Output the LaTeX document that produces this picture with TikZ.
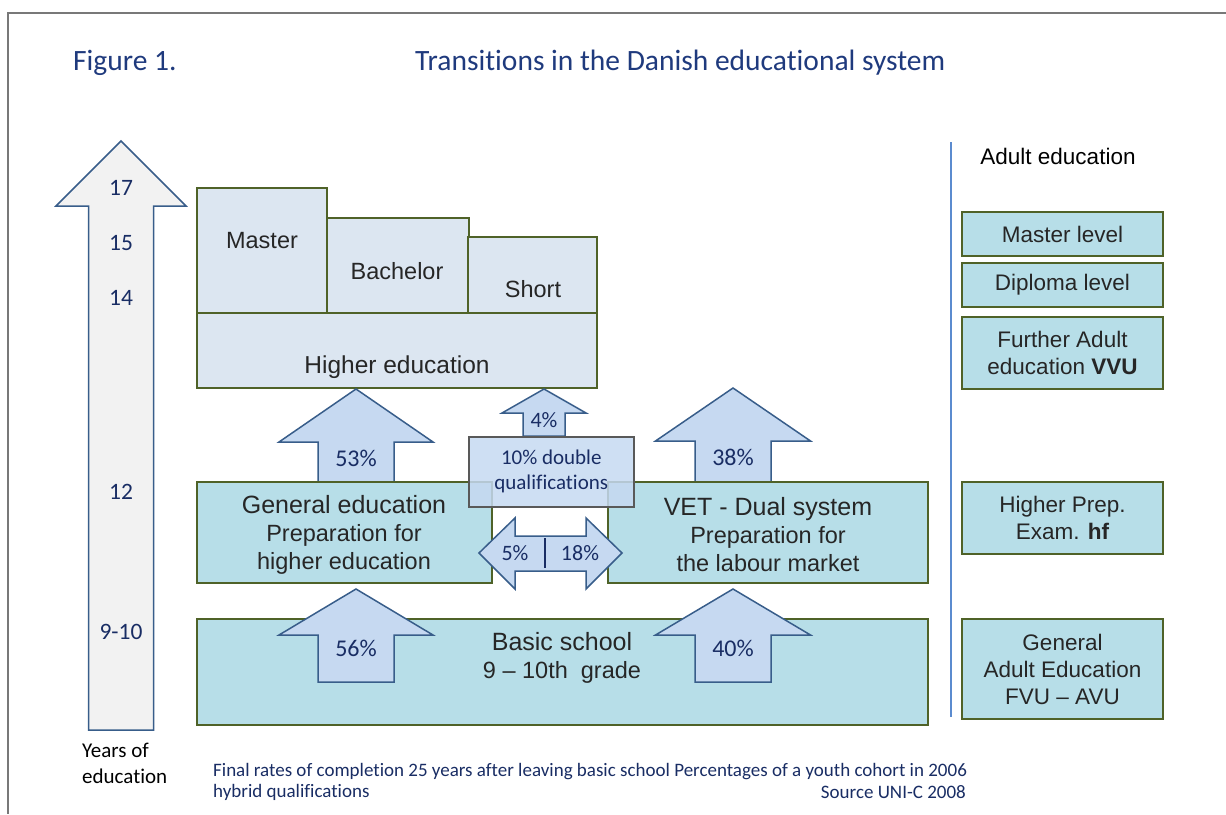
\documentclass[tikz,border=0pt]{standalone}
\usepackage{fontspec}
\setmainfont{Carlito}[Ligatures={NoCommon}]
\newfontfamily\arialf{Liberation Sans}
\definecolor{titleblue}{RGB}{31,58,125}
\definecolor{navy}{RGB}{25,45,100}
\definecolor{boxgreen}{RGB}{79,98,40}
\definecolor{cyanfill}{RGB}{183,222,232}
\definecolor{hefill}{RGB}{220,230,241}
\definecolor{arrfill}{RGB}{198,217,241}
\definecolor{arrline}{RGB}{56,93,138}
\definecolor{vline}{RGB}{91,139,207}
\definecolor{txtgray}{RGB}{38,38,38}
\definecolor{framegray}{RGB}{120,120,120}
\newcommand\UpArrowShape[7]{%
  \filldraw[#1] (#2,#3) -- ({#2+#5},#4) -- ({#2+#6},#4) -- ({#2+#6},#7)
    -- ({#2-#6},#7) -- ({#2-#6},#4) -- ({#2-#5},#4) -- cycle;}
\tikzset{
  box/.style={draw=boxgreen, line width=2.5pt, fill=cyanfill, inner sep=0pt,
    outer sep=0pt, anchor=north west, text=txtgray,
    font=\arialf\fontsize{22.5}{27}\selectfont, align=center},
  hebox/.style={box, fill=hefill},
  boxtext/.style={text=txtgray, font=\arialf\fontsize{23.5}{28}\selectfont, align=center, inner sep=0pt},
  arrsty/.style={fill=arrfill, draw=arrline, line width=1.5pt, line join=miter},
  yearsarr/.style={fill=black!5, draw=arrline, line width=1.5pt},
  pct/.style={text=navy, font=\fontsize{24}{28}\selectfont, inner sep=0pt},
  spct/.style={text=navy, font=\fontsize{22}{24}\selectfont, inner sep=0pt},
  yr/.style={text=navy, font=\fontsize{23.5}{26}\selectfont, inner sep=0pt},
  foot/.style={text=navy, font=\fontsize{19}{21}\selectfont, inner sep=0pt},
}
\begin{document}
\begin{tikzpicture}[x=1pt,y=-1pt]
\useasboundingbox (0,0) rectangle (1226,814);
% frame
\draw[framegray, line width=1.5pt] (1226,13) -- (8,13) -- (8,814);
% titles
\node[anchor=west, text=titleblue, font=\fontsize{29.5}{34}\selectfont, inner sep=0pt] (fig) at (73,63) {Figure 1.};
\node[anchor=west, text=titleblue, font=\fontsize{29.5}{34}\selectfont, inner sep=0pt] (title) at (415,63) {Transitions in the Danish educational system};
% years arrow
\UpArrowShape{yearsarr}{121}{141}{206}{65}{32.5}{730}
\node[yr] (y17) at (121,188) {17};
\node[yr] (y15) at (121,243) {15};
\node[yr] (y14) at (121,298) {14};
\node[yr] (y12) at (121,492) {12};
\node[yr] (y9) at (121,632) {9-10};
\node[anchor=west, text=black, font=\fontsize{21}{24}\selectfont, inner sep=0pt] (yrsof) at (82,750) {Years of};
\node[anchor=west, text=black, font=\fontsize{21}{24}\selectfont, inner sep=0pt] (yrsedu) at (82,776) {education};
% higher education group
\node[hebox, minimum width=130pt, minimum height=125pt] (master) at (197,188) {};
\node[hebox, minimum width=142pt, minimum height=95pt] (bachelor) at (327,218) {};
\node[hebox, minimum width=129pt, minimum height=76pt] (short) at (468,237) {};
\node[hebox, minimum width=400pt, minimum height=75pt] (higher) at (197,313) {};
\node[boxtext] (masterT) at (262,241) {Master};
\node[boxtext] (bachelorT) at (397,271) {Bachelor};
\node[boxtext] (shortT) at (533,289) {Short};
\node[boxtext, font=\arialf\fontsize{24.5}{28}\selectfont] (higherT) at (397,367) {Higher education};
% arrows up to higher education
\UpArrowShape{arrsty}{356}{389}{442}{77}{38}{483}
\UpArrowShape{arrsty}{733}{388}{441}{77.5}{38}{483}
\UpArrowShape{arrsty}{544}{389}{413}{42}{21}{436}
% middle boxes
\node[box, minimum width=295pt, minimum height=101pt] (general) at (197,482) {};
\node[boxtext] (generalT) at (344,535) {{\fontsize{25}{28}\selectfont General education}\\Preparation for\\higher education};
\node[box, minimum width=320pt, minimum height=101pt] (vet) at (608,482) {};
\node[boxtext] (vetT) at (768,535) {{\fontsize{25}{28}\selectfont VET - Dual system}\\Preparation for\\the labour market};
% basic school
\node[box, minimum width=731pt, minimum height=106pt] (basic) at (197,619) {};
\node[boxtext] (basicT) at (562,658) {{\fontsize{25}{30}\selectfont Basic school}\\9 \textendash{} 10th\ \ grade};
% arrows from basic school
\UpArrowShape{arrsty}{356}{589}{635}{77}{38}{682}
\UpArrowShape{arrsty}{733}{589}{635}{77.5}{38}{682}
% double arrow
\filldraw[arrsty] (479,553) -- (515,518) -- (515,536) -- (586,536) -- (586,518)
  -- (622,553) -- (586,589) -- (586,571) -- (515,571) -- (515,589) -- cycle;
\draw[navy, line width=2pt] (545,538) -- (545,568);
% double qualifications box
\node[draw=black!65, line width=1.5pt, fill=arrfill, fill opacity=0.85, text opacity=1,
  anchor=north west, minimum width=165pt, minimum height=70pt, inner sep=0pt,
  text=navy, font=\fontsize{21}{25}\selectfont, align=center] (dq) at (468,436)
  {10\% double\\qualifications};
% percentages
\node[pct] (p53) at (356,458) {53\%};
\node[pct] (p38) at (733,457) {38\%};
\node[pct] (p56) at (356,648) {56\%};
\node[pct] (p40) at (733,648) {40\%};
\node[spct] (p4) at (544,420) {4\%};
\node[spct] (p5) at (515,553) {5\%};
\node[spct] (p18) at (580,553) {18\%};
% adult education
\draw[vline, line width=2pt] (951,142) -- (951,717);
\node[text=black, font=\arialf\fontsize{22.5}{27}\selectfont, inner sep=0pt] (adult) at (1058,156) {Adult education};
\node[box, minimum width=201pt, minimum height=44pt] (amaster) at (962,212) {Master level};
\node[box, minimum width=201pt, minimum height=44pt] (adiploma) at (962,263) {Diploma level};
\node[box, minimum width=201pt, minimum height=72pt] (avvu) at (962,317) {Further Adult\\education \textbf{VVU}};
\node[box, minimum width=201pt, minimum height=72pt] (ahf) at (962,482) {Higher Prep.\\Exam. \textbf{hf}};
\node[box, minimum width=201pt, minimum height=100pt] (afvu) at (962,619) {General\\Adult Education\\FVU \textendash{} AVU};
% footer
\node[foot, anchor=west] (foot1) at (213,772) {Final rates of completion 25 years after leaving basic school Percentages of a youth cohort in 2006};
\node[foot, anchor=west] (foot2) at (213,792) {hybrid qualifications};
\node[foot, anchor=east] (foot3) at (966,792) {Source UNI-C 2008};
\end{tikzpicture}
\end{document}
